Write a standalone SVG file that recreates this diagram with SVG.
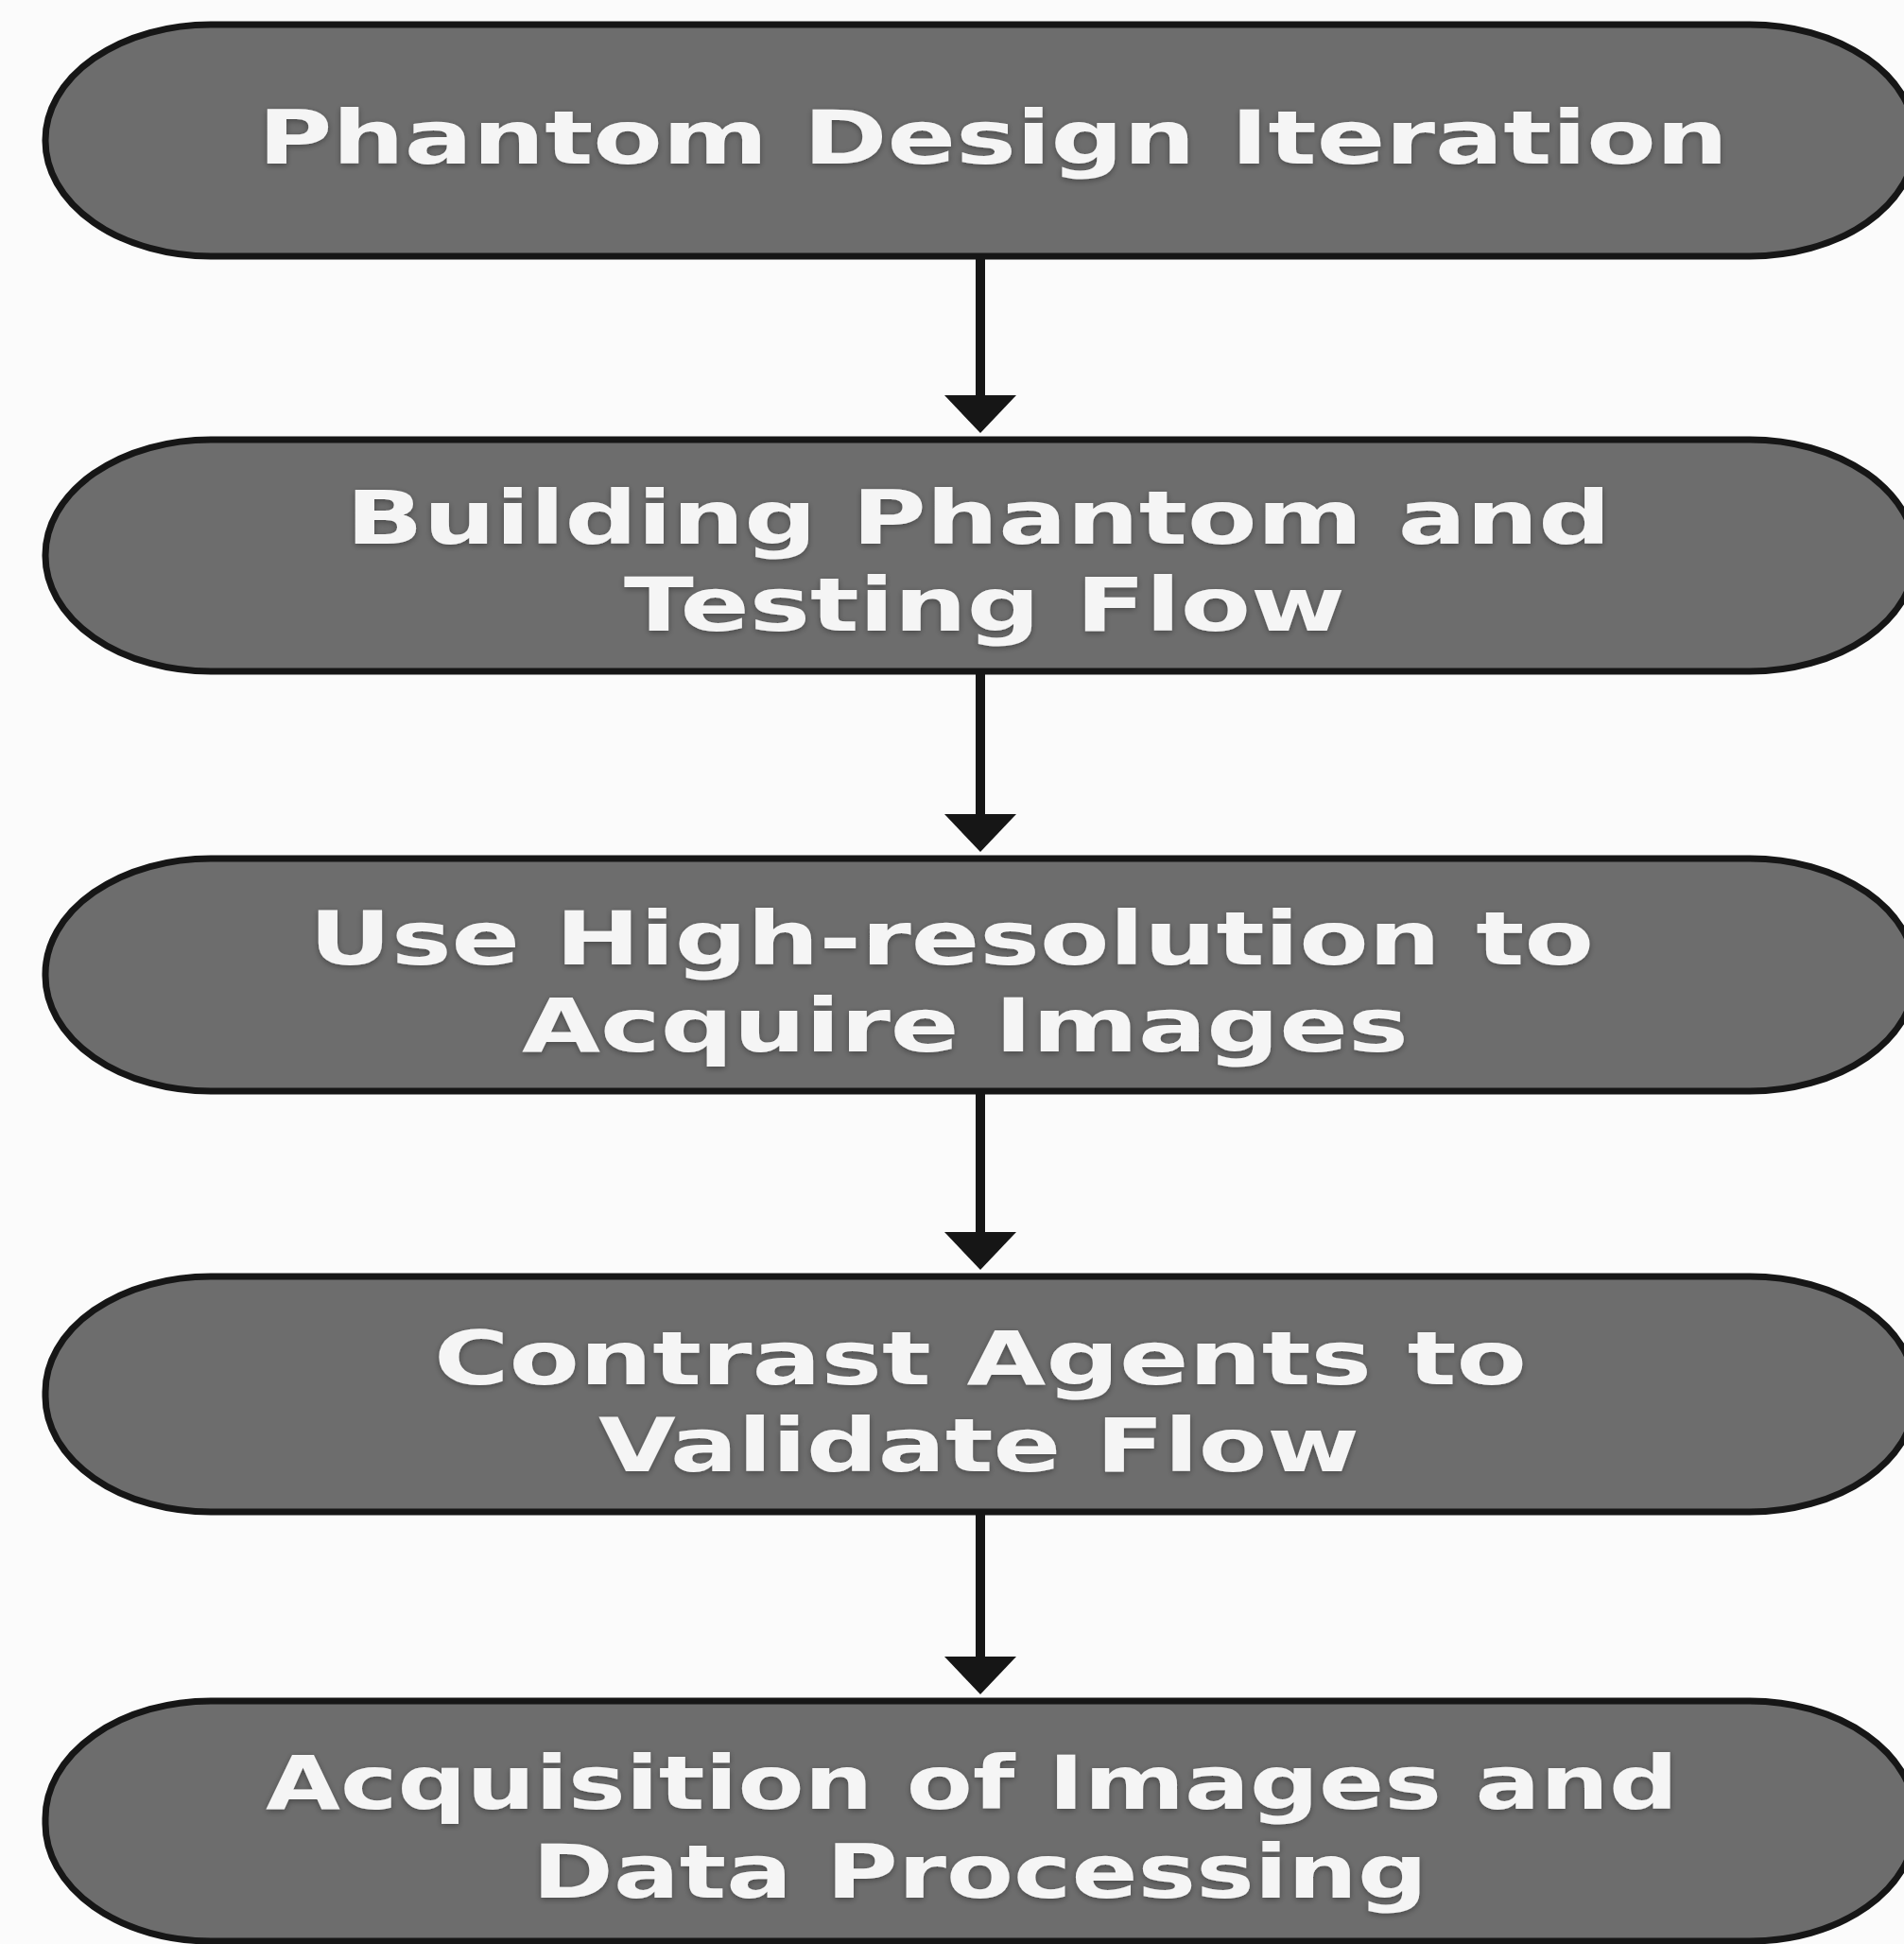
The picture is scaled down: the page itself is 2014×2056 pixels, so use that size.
<svg xmlns="http://www.w3.org/2000/svg" width="2014" height="2056" viewBox="0 0 2014 2056">
<style>
.bg{fill:#fbfbfb}
.node rect{fill:#6d6d6d;stroke:#161616;stroke-width:7}
.node text{fill:#f5f5f5;font-family:"DejaVu Sans","Liberation Sans",Arial,sans-serif;font-weight:bold;font-size:79px;filter:url(#ts)}
.conn path{stroke:#161616;stroke-width:10;fill:none}
</style>
<defs>
<filter id="ts" x="-5%" y="-30%" width="110%" height="160%">
<feDropShadow dx="0" dy="2" stdDeviation="3" flood-color="#000" flood-opacity="0.35"/>
</filter>
<marker id="ah" markerUnits="userSpaceOnUse" viewBox="0 0 40 76" refX="0" refY="38" markerWidth="40" markerHeight="76" orient="auto">
<path d="M0,0 L40,38 L0,76 Z" fill="#161616"/>
</marker>
</defs>
<rect class="bg" x="0" y="0" width="2014" height="2056"/>
<g id="connectors" class="conn">
<path d="M1037,274 L1037,418" marker-end="url(#ah)"/>
<path d="M1037,713 L1037,861" marker-end="url(#ah)"/>
<path d="M1037,1157 L1037,1303" marker-end="url(#ah)"/>
<path d="M1037,1602 L1037,1752" marker-end="url(#ah)"/>
</g>
<g id="node1" class="node">
<rect x="48" y="26" width="1978" height="245" rx="175" ry="122"/>
<text x="273" y="173" textLength="1555" lengthAdjust="spacingAndGlyphs">Phantom Design Iteration</text>
</g>
<g id="node2" class="node">
<rect x="48" y="465" width="1978" height="245" rx="175" ry="122"/>
<text x="366" y="575" textLength="1338" lengthAdjust="spacingAndGlyphs">Building Phantom and</text>
<text x="660" y="667" textLength="763" lengthAdjust="spacingAndGlyphs">Testing Flow</text>
</g>
<g id="node3" class="node">
<rect x="48" y="908" width="1978" height="246" rx="175" ry="122"/>
<text x="327" y="1020" textLength="1359" lengthAdjust="spacingAndGlyphs">Use High-resolution to</text>
<text x="552" y="1112" textLength="938" lengthAdjust="spacingAndGlyphs">Acquire Images</text>
</g>
<g id="node4" class="node">
<rect x="48" y="1350" width="1978" height="249" rx="175" ry="122"/>
<text x="459" y="1464" textLength="1156" lengthAdjust="spacingAndGlyphs">Contrast Agents to</text>
<text x="633" y="1556" textLength="805" lengthAdjust="spacingAndGlyphs">Validate Flow</text>
</g>
<g id="node5" class="node">
<rect x="48" y="1799" width="1978" height="254" rx="175" ry="124"/>
<text x="281" y="1913" textLength="1494" lengthAdjust="spacingAndGlyphs">Acquisition of Images and</text>
<text x="563" y="2007" textLength="947" lengthAdjust="spacingAndGlyphs">Data Processing</text>
</g>
</svg>
